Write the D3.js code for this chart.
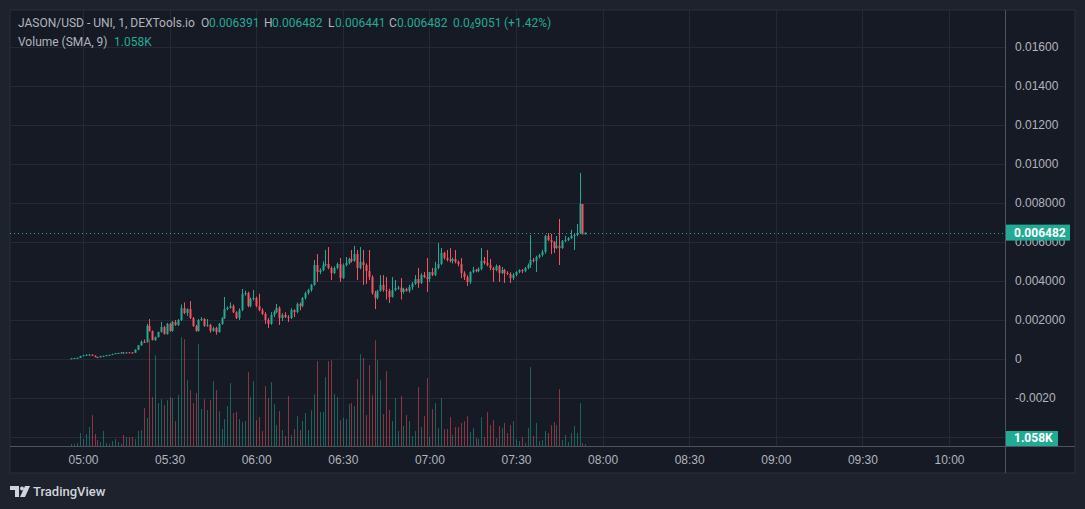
<!DOCTYPE html>
<html>
<head>
<meta charset="utf-8">
<script src="https://cdn.jsdelivr.net/npm/d3@7"></script>
<style>
html, body { margin: 0; padding: 0; background: #1e222d; }
svg { display: block; font-family: Roboto, "Liberation Sans", sans-serif; }
</style>
</head>
<body>
<div id="chart"></div>
<script>
// prices are in micro-USD (1e-6), volumes in raw units, one bar per minute from 04:56
var PRICE_UNIT = 1e-6;
var firstBar = new Date(2024, 0, 1, 4, 56);

var opens = [
  0,30,50,60,150,200,210,220,170,100,
  90,150,160,200,210,260,300,310,330,300,
  340,330,320,470,700,880,860,1700,1440,970,
  1130,1390,1640,1280,1800,1440,1900,1740,2000,2610,
  2360,2560,2100,1690,1440,2000,2050,1700,1750,1440,
  1590,1380,1800,2100,2560,2620,2720,2400,2100,2510,
  3330,3380,2720,3080,3130,2720,2510,2310,2000,1800,
  2260,2410,2620,2100,2260,2150,2100,2510,2410,2820,
  2720,3130,3380,3540,3800,4820,4460,4560,4820,4870,
  4670,4410,4670,4870,4150,4820,4920,5130,5030,5380,
  4670,4980,4820,4510,4200,3380,3130,3490,3800,3540,
  3490,3180,3540,3640,3660,3440,3590,3490,3690,3850,
  4100,3900,4310,4200,4100,4460,4310,4670,4870,5440,
  5180,5080,5030,5130,4980,4870,4410,4200,3950,4460,
  4560,4510,4620,5030,4920,4820,4670,4560,4770,4410,
  4560,4410,4360,4150,4310,4460,4560,4510,4670,4820,
  5080,5030,5230,5330,5490,6310,6100,6000,5690,5800,
  5690,6050,6100,6200,6310,6360,6460,7950,6391
];
var highs = [
  40,60,70,160,210,250,260,240,180,110,
  160,170,210,220,270,310,320,360,350,350,
  360,350,500,720,950,1000,1800,2050,1460,1150,
  1400,1900,1700,1850,1850,1950,2000,2050,2800,2900,
  2600,2970,2150,1750,2050,2150,2100,2050,1800,1650,
  1650,1850,2150,3180,2700,2900,2800,2450,2600,3590,
  3500,3450,3150,3540,3200,3350,2600,2400,2100,2400,
  2500,2820,2700,2350,2400,2250,2600,2550,2900,2900,
  3180,3450,3600,3850,5080,5380,4650,5000,5590,5740,
  4750,4750,4950,5180,4900,5230,5200,5590,5800,5590,
  5740,5590,4900,5590,4300,3500,3550,4300,4300,4200,
  3600,4200,4050,3750,4150,3650,3650,3800,3950,4300,
  4670,4400,4460,5180,4460,4670,4980,5950,5690,5500,
  5590,5690,5200,5590,5050,5180,4500,4300,4500,4720,
  4620,4700,5690,5230,5590,5130,4720,4850,4820,4720,
  4620,4500,4450,4400,4500,4600,4620,4720,4900,6360,
  5180,5300,5400,5600,6360,6460,6410,6050,6310,7180,
  6100,6310,6250,6620,6420,6920,9540,7950,6482
];
var lows = [
  0,20,40,50,140,190,200,160,90,80,
  80,140,150,190,200,250,290,300,280,290,
  320,300,310,450,680,820,840,1400,950,930,
  1100,1350,1250,1250,1400,1400,1700,1700,1950,2300,
  2200,2050,1650,1400,1400,1950,1650,1650,1350,1400,
  1250,1350,1750,2050,2500,2580,2350,2050,2000,2450,
  3250,2650,2650,3000,2650,2450,2250,1800,1590,1750,
  2150,2350,1740,1950,2100,1900,2050,2150,2350,2500,
  2650,3050,3300,3450,3750,3950,4350,4500,4750,4600,
  4050,4350,4600,3950,4100,4750,4850,4950,4980,4050,
  4600,3800,3850,4050,3300,2560,3050,3450,3450,3050,
  2870,3150,3480,3550,3050,3350,3450,3400,3550,3800,
  3650,3850,4150,3440,3950,4250,4250,4600,4820,5100,
  5000,4950,4900,4900,4750,4150,4050,3750,3850,4400,
  4450,4450,4550,4850,4750,4550,3950,4500,3950,4350,
  3900,4300,3900,4050,4250,4400,4400,4450,4600,4670,
  4950,4460,5150,5250,5400,6050,5380,5440,5650,4820,
  5650,6000,6050,6150,5590,6300,6410,6391,6391
];
var closes = [
  30,50,60,150,200,210,220,170,100,90,
  150,160,200,210,260,300,310,330,300,340,
  330,320,470,700,880,860,1700,1440,970,1130,
  1390,1640,1280,1800,1440,1900,1740,2000,2610,2360,
  2560,2100,1690,1440,2000,2050,1700,1750,1440,1590,
  1380,1800,2100,2560,2620,2720,2400,2100,2510,3330,
  3380,2720,3080,3130,2720,2510,2310,2000,1800,2260,
  2410,2620,2100,2260,2150,2100,2510,2410,2820,2720,
  3130,3380,3540,3800,4820,4460,4560,4820,4870,4670,
  4410,4670,4870,4150,4820,4920,5130,5030,5380,4670,
  4980,4820,4510,4200,3380,3130,3490,3800,3540,3490,
  3180,3540,3640,3660,3440,3590,3490,3690,3850,4100,
  3900,4310,4200,4100,4460,4310,4670,4870,5440,5180,
  5080,5030,5130,4980,4870,4410,4200,3950,4460,4560,
  4510,4620,5030,4920,4820,4670,4560,4770,4410,4560,
  4410,4360,4150,4310,4460,4560,4510,4670,4820,5080,
  5030,5230,5330,5490,6310,6100,6000,5690,5800,5690,
  6050,6100,6200,6310,6360,6460,7950,6391,6482
];
var volumes = [
  260,260,400,1720,920,1580,2510,4090,1580,790,
  530,1980,400,260,660,920,530,260,1450,1190,
  1190,1190,920,1980,2110,5020,3700,14120,6470,12010,
  5680,6200,5410,6070,6470,6340,3300,6730,14390,14120,
  8710,7390,5680,7000,13460,4880,6200,4750,6070,8580,
  7390,4620,2240,3560,5280,8320,4360,4490,3560,3170,
  3300,9770,6470,8580,3430,3830,1980,7920,6340,8450,
  5540,2770,4620,2110,1320,6600,1450,2240,3960,2110,
  3300,4360,2110,4750,6860,11220,4490,4490,9110,11220,
  11350,6860,6470,3430,3700,3560,5540,5680,5280,8840,
  12140,11620,4090,10690,6730,13990,11350,8710,4220,9900,
  4750,3300,6340,1980,6600,2640,4090,3300,1320,1980,
  7790,2510,3960,8980,1190,4880,5680,2380,6340,2240,
  2240,3830,1450,2510,2510,3040,3300,3960,1850,2380,
  1060,920,3830,1190,4490,2770,3430,1060,2640,2380,
  3040,1720,2770,3300,920,660,1190,400,2380,10430,
  1320,3040,660,790,1980,1720,2770,3170,2770,7520,
  790,1450,530,1720,2640,1720,5680,400,260
];

var priceTicks = [0.016, 0.014, 0.012, 0.010, 0.008, 0.006, 0.004, 0.002, 0, -0.002];
var priceTickLabels = ["0.01600", "0.01400", "0.01200", "0.01000", "0.008000", "0.006000",
  "0.004000", "0.002000", "0", "-0.0020"];
var gridPrices = [0.016, 0.014, 0.012, 0.010, 0.008, 0.006, 0.004, 0.002, 0, -0.002, -0.004];
var lastPrice = 0.006482, lastPriceLabel = "0.006482";
var volSma = 1058, volSmaLabel = "1.058K";

var UP = "#22ab94", DOWN = "#f7525f";
var UP_VOL = "rgba(34,171,148,0.5)", DOWN_VOL = "rgba(247,82,95,0.5)";
var TEXT = "#b2b5be", GRID = "#252935";

var width = 1085, height = 509;
var pane = { left: 10, top: 10, right: 1005, bottom: 446 };

var bars = opens.map(function (o, i) {
  return {
    t: d3.timeMinute.offset(firstBar, i),
    o: o * PRICE_UNIT, h: highs[i] * PRICE_UNIT, l: lows[i] * PRICE_UNIT, c: closes[i] * PRICE_UNIT,
    v: volumes[i]
  };
});

var svg = d3.select("#chart").append("svg")
  .attr("width", width)
  .attr("height", height);

svg.append("rect").attr("width", width).attr("height", height).attr("fill", "#1e222d");
svg.append("rect")
  .attr("x", 10).attr("y", 10).attr("width", 1065).attr("height", 463)
  .attr("fill", "#161a25").attr("stroke", "#2a2e39");

var x = d3.scaleTime()
  .domain([new Date(2024, 0, 1, 5, 0), new Date(2024, 0, 1, 10, 0)])
  .range([83, 949]);
var y = d3.scaleLinear().domain([-0.002, 0.016]).range([398, 47]);
var vy = d3.scaleLinear().domain([0, 57660]).range([pane.bottom, pane.top]);

svg.append("clipPath").attr("id", "clip")
  .append("rect")
  .attr("x", pane.left).attr("y", pane.top)
  .attr("width", pane.right - pane.left).attr("height", pane.bottom - pane.top);

// grid
var grid = svg.append("g").attr("clip-path", "url(#clip)");
grid.selectAll(".hgrid")
  .data(gridPrices)
  .enter().append("line")
  .attr("x1", pane.left).attr("x2", pane.right)
  .attr("y1", function (d) { return Math.round(y(d)) + 0.5; })
  .attr("y2", function (d) { return Math.round(y(d)) + 0.5; })
  .attr("stroke", GRID);
var timeTicks = x.ticks(d3.timeMinute.every(30));
grid.selectAll(".vgrid")
  .data(timeTicks)
  .enter().append("line")
  .attr("x1", function (d) { return Math.round(x(d)) + 0.5; })
  .attr("x2", function (d) { return Math.round(x(d)) + 0.5; })
  .attr("y1", pane.top).attr("y2", pane.bottom)
  .attr("stroke", GRID);

var plot = svg.append("g").attr("clip-path", "url(#clip)");

// volume overlay
plot.selectAll(".vol")
  .data(bars)
  .enter().append("rect")
  .attr("class", "vol")
  .attr("x", function (d) { return Math.round(x(d.t)); })
  .attr("width", 1)
  .attr("y", function (d) { return vy(d.v); })
  .attr("height", function (d) { return pane.bottom - vy(d.v); })
  .attr("fill", function (d) { return d.c >= d.o ? UP_VOL : DOWN_VOL; });

// candles
plot.selectAll(".wick")
  .data(bars)
  .enter().append("line")
  .attr("x1", function (d) { return Math.round(x(d.t)) + 0.5; })
  .attr("x2", function (d) { return Math.round(x(d.t)) + 0.5; })
  .attr("y1", function (d) { return y(d.h); })
  .attr("y2", function (d) { return y(d.l); })
  .attr("stroke", function (d) { return d.c >= d.o ? UP : DOWN; });

plot.selectAll(".body")
  .data(bars)
  .enter().append("rect")
  .attr("x", function (d) { return Math.round(x(d.t)) - 0.5; })
  .attr("width", 2)
  .attr("y", function (d) { return y(Math.max(d.o, d.c)); })
  .attr("height", function (d) { return Math.max(1, Math.abs(y(d.o) - y(d.c))); })
  .attr("fill", function (d) { return d.c >= d.o ? UP : DOWN; });

// last price dotted line
svg.append("line")
  .attr("x1", pane.left).attr("x2", pane.right)
  .attr("y1", Math.round(y(lastPrice)) + 0.5).attr("y2", Math.round(y(lastPrice)) + 0.5)
  .attr("stroke", UP).attr("stroke-dasharray", "1,3");

// right price axis
var yAxis = d3.axisRight(y)
  .tickValues(priceTicks)
  .tickFormat(function (d, i) { return priceTickLabels[i]; })
  .tickSize(0)
  .tickPadding(10);
var ya = svg.append("g")
  .attr("transform", "translate(" + pane.right + ",0)")
  .call(yAxis);
ya.select(".domain").remove();
ya.selectAll("text").attr("fill", TEXT).style("font-size", "12px");

// time axis
var xAxis = d3.axisBottom(x)
  .ticks(d3.timeMinute.every(30))
  .tickFormat(d3.timeFormat("%H:%M"))
  .tickSize(0)
  .tickPadding(9);
var xa = svg.append("g")
  .attr("transform", "translate(0," + pane.bottom + ")")
  .call(xAxis);
xa.select(".domain").remove();
xa.selectAll("text").attr("fill", TEXT).style("font-size", "12px");

// separators
svg.append("line")
  .attr("x1", pane.right + 0.5).attr("x2", pane.right + 0.5)
  .attr("y1", 10).attr("y2", 473).attr("stroke", "#50535e");
svg.append("line")
  .attr("x1", 10).attr("x2", 1075)
  .attr("y1", pane.bottom + 0.5).attr("y2", pane.bottom + 0.5).attr("stroke", "#50535e");

// price labels
var py = y(lastPrice);
svg.append("rect")
  .attr("x", pane.right + 1).attr("y", py - 8).attr("width", 64).attr("height", 16)
  .attr("fill", UP);
svg.append("text")
  .attr("x", pane.right + 9).attr("y", py + 4.5)
  .attr("fill", "#ffffff").style("font-size", "12px").style("font-weight", "bold")
  .text(lastPriceLabel);

var vly = vy(volSma);
svg.append("rect")
  .attr("x", pane.right + 1).attr("y", vly - 7).attr("width", 52).attr("height", 15)
  .attr("fill", UP);
svg.append("text")
  .attr("x", pane.right + 9).attr("y", vly + 4.5)
  .attr("fill", "#ffffff").style("font-size", "12px").style("font-weight", "bold")
  .text(volSmaLabel);

// header legend
var head = svg.append("g").style("font-size", "12px");
var legend = [
  { x: 18, t: "JASON/USD - UNI, 1, DEXTools.io", c: TEXT },
  { x: 201, t: "O", c: TEXT }, { x: 209, t: "0.006391", c: UP },
  { x: 264, t: "H", c: TEXT }, { x: 272, t: "0.006482", c: UP },
  { x: 328, t: "L", c: TEXT }, { x: 335, t: "0.006441", c: UP },
  { x: 389, t: "C", c: TEXT }, { x: 397, t: "0.006482", c: UP },
  { x: 504, t: "(+1.42%)", c: UP }
];
head.selectAll("text.l1")
  .data(legend)
  .enter().append("text")
  .attr("x", function (d) { return d.x; })
  .attr("y", 27)
  .attr("fill", function (d) { return d.c; })
  .text(function (d) { return d.t; });
// change value with subscript zero count
var chg = head.append("text").attr("x", 453).attr("y", 27).attr("fill", UP);
chg.append("tspan").text("0.0");
chg.append("tspan").attr("dy", 2).style("font-size", "8.5px").text("4");
chg.append("tspan").attr("dy", -2).text("9051");

head.append("text").attr("x", 18).attr("y", 46).attr("fill", TEXT).text("Volume (SMA, 9)");
head.append("text").attr("x", 114).attr("y", 46).attr("fill", UP).text(volSmaLabel);

// footer logo
var logo = svg.append("g").attr("fill", "#d1d4dc");
logo.append("path").attr("d", "M10,486 H19 V497 H15 V490 H10 Z");
logo.append("circle").attr("cx", 22).attr("cy", 488.5).attr("r", 2);
logo.append("path").attr("d", "M25,486 H30 L25,497 H20 Z");
svg.append("text")
  .attr("x", 33).attr("y", 496)
  .attr("fill", "#d1d4dc")
  .style("font-size", "13px").style("font-weight", "500")
  .text("TradingView");
</script>
</body>
</html>
